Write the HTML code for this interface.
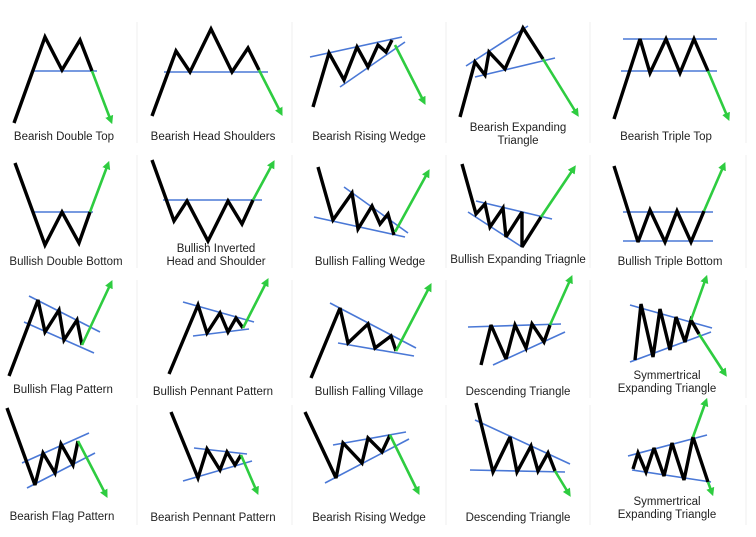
<!DOCTYPE html>
<html><head><meta charset="utf-8">
<style>
html,body{margin:0;padding:0;background:#fff;}
svg{display:block;}
text{font-family:"Liberation Sans",sans-serif;font-size:11.5px;fill:#222;text-anchor:middle;}
</style></head>
<body>
<svg id="chart" width="756" height="537" viewBox="0 0 756 537">
<defs>
<marker id="ah" viewBox="0 0 10 10" refX="6" refY="5" markerWidth="3.2" markerHeight="3.2" orient="auto"><path d="M0,0 L10,5 L0,10 z" fill="#2ecc40"/></marker>
</defs>
</svg>
<script>
const labels = [
 ["Bearish Double Top"],["Bearish Head Shoulders"],["Bearish Rising Wedge"],["Bearish Expanding","Triangle"],["Bearish Triple Top"],
 ["Bullish Double Bottom"],["Bullish Inverted","Head and Shoulder"],["Bullish Falling Wedge"],["Bullish Expanding Triagnle"],["Bullish Triple Bottom"],
 ["Bullish Flag Pattern"],["Bullish Pennant Pattern"],["Bullish Falling Village"],["Descending Triangle"],["Symmertrical","Expanding Triangle"],
 ["Bearish Flag Pattern"],["Bearish Pennant Pattern"],["Bearish Rising Wedge"],["Descending Triangle"],["Symmertrical","Expanding Triangle"]
];
const labelPos = [[64,140],[213,140],[369,140],[518,131],[666,140],[66,265],[216,252],[370,265],[518,263],[670,265],
 [63,393],[213,395],[369,395],[518,395],[667,379],[62,520],[213,521],[369,521],[518,521],[667,505]];
const priceLines = [
 [[14,123],[45,37],[62,70],[80,40],[92,71]],
 [[152,116],[176,51],[190,72],[211,29],[232,72],[248,48],[259,70]],
 [[313,107],[329,53],[344,80],[357,47],[368,67],[378,45],[386,52],[392,40]],
 [[460,117],[475,62],[485,75],[489,52],[505,69],[523,28],[543,59]],
 [[614,119],[640,39],[650,73],[666,39],[680,73],[694,39],[708,71]],
 [[15,163],[45,245],[62,212],[79,243],[90,212]],
 [[152,160],[174,221],[187,201],[208,241],[228,201],[242,224],[253,200]],
 [[318,167],[333,220],[352,193],[358,229],[372,206],[380,224],[388,214],[394,235]],
 [[462,164],[476,214],[485,204],[490,227],[503,208],[506,237],[522,212],[522,247],[541,217]],
 [[614,166],[638,242],[650,210],[665,242],[677,211],[691,242],[704,211]],
 [[9,376],[38,300],[45,332],[59,310],[64,340],[77,320],[82,345]],
 [[169,374],[198,305],[207,333],[220,313],[228,332],[236,318],[243,328]],
 [[311,378],[340,308],[348,343],[368,324],[375,348],[391,336],[396,351]],
 [[481,365],[491,325],[506,359],[515,325],[526,348],[532,324],[544,342],[550,325]],
 [[635,360],[641,304],[653,357],[660,309],[670,350],[676,317],[685,342],[691,320],[699,334]],
 [[7,408],[35,485],[43,453],[55,473],[61,444],[73,465],[78,441]],
 [[171,412],[198,478],[207,449],[220,470],[227,452],[235,465],[241,455]],
 [[305,412],[336,478],[343,443],[362,463],[368,438],[382,452],[390,435]],
 [[476,403],[493,472],[510,437],[517,472],[531,446],[538,471],[548,453],[555,471]],
 [[633,469],[638,453],[646,472],[654,448],[664,476],[672,443],[684,480],[693,437],[708,482]]
];
const trendLines = [
 [[[34,71],[97,71]]],
 [[[164,72],[268,72]]],
 [[[310,57],[402,37]],[[340,87],[405,42]]],
 [[[466,66],[528,26]],[[475,77],[555,58]]],
 [[[623,39],[717,39]],[[621,71],[717,71]]],
 [[[33,212],[93,212]]],
 [[[163,200],[262,200]]],
 [[[344,187],[408,233]],[[314,217],[405,237]]],
 [[[476,201],[552,219]],[[468,212],[522,247]]],
 [[[623,212],[713,212]],[[623,241],[713,241]]],
 [[[29,296],[100,332]],[[24,322],[94,353]]],
 [[[183,302],[254,322]],[[193,336],[249,329]]],
 [[[330,303],[416,348]],[[338,343],[414,356]]],
 [[[468,327],[561,324]],[[493,365],[565,332]]],
 [[[630,305],[712,328]],[[630,362],[711,332]]],
 [[[22,463],[89,433]],[[27,488],[95,453]]],
 [[[194,448],[247,454]],[[183,481],[252,461]]],
 [[[333,445],[406,432]],[[325,483],[409,439]]],
 [[[475,420],[570,464]],[[470,470],[565,472]]],
 [[[628,456],[707,435]],[[632,470],[711,482]]]
];
const breakouts = [
 [[[92,71],[111,121]]],[[[259,70],[281,113]]],[[[395,45],[424,102]]],[[[543,59],[577,114]]],[[[708,71],[728,118]]],
 [[[90,212],[108,164]]],[[[253,200],[273,163]]],[[[395,232],[428,172]]],[[[541,217],[574,168]]],[[[704,211],[724,165]]],
 [[[82,345],[111,283]]],[[[243,328],[267,281]]],[[[396,351],[430,286]]],[[[550,325],[571,278]]],[[[691,320],[706,278]],[[699,334],[725,374]]],
 [[[78,441],[106,495]]],[[[241,455],[257,492]]],[[[390,435],[418,492]]],[[[555,471],[569,494]]],[[[693,437],[706,401]],[[708,482],[712,493]]]
];
const dividerX = [137,292,446,590,746];
const rowSpans = [[22,143],[155,268],[280,398],[405,525]];

const svg = document.getElementById('chart');
const NS = 'http://www.w3.org/2000/svg';
function mk(tag, attrs){const e=document.createElementNS(NS,tag);for(const k in attrs)e.setAttribute(k,attrs[k]);svg.appendChild(e);return e;}
const pts = a => a.map(p=>p[0]+','+p[1]).join(' ');

dividerX.forEach(x=>rowSpans.forEach(r=>{
  const d=mk('line',{x1:x,y1:r[0],x2:x,y2:r[1],stroke:'#efefef','stroke-width':1});
  
  
}));

labels.forEach((lab,i)=>{
  trendLines[i].forEach(l=>{
    const e=mk('line',{x1:l[0][0],y1:l[0][1],x2:l[1][0],y2:l[1][1],stroke:'#4a78d6','stroke-width':1.6});
    
    
  });
  const pl=mk('polyline',{points:pts(priceLines[i]),fill:'none',stroke:'#000','stroke-width':3.4,'stroke-linejoin':'miter','stroke-miterlimit':3});
  
  
  breakouts[i].forEach(l=>{
    const e=mk('line',{x1:l[0][0],y1:l[0][1],x2:l[1][0],y2:l[1][1],stroke:'#2ecc40','stroke-width':2.6,'marker-end':'url(#ah)'});
    
    
  });
  const t=mk('text',{x:labelPos[i][0],y:labelPos[i][1]});
  
  
  lab.forEach((s,j)=>{
    const ts=document.createElementNS(NS,'tspan');
    ts.setAttribute('x',labelPos[i][0]);
    if(j>0)ts.setAttribute('dy','13');
    ts.textContent=s;t.appendChild(ts);
  });
});
</script>
</body></html>
